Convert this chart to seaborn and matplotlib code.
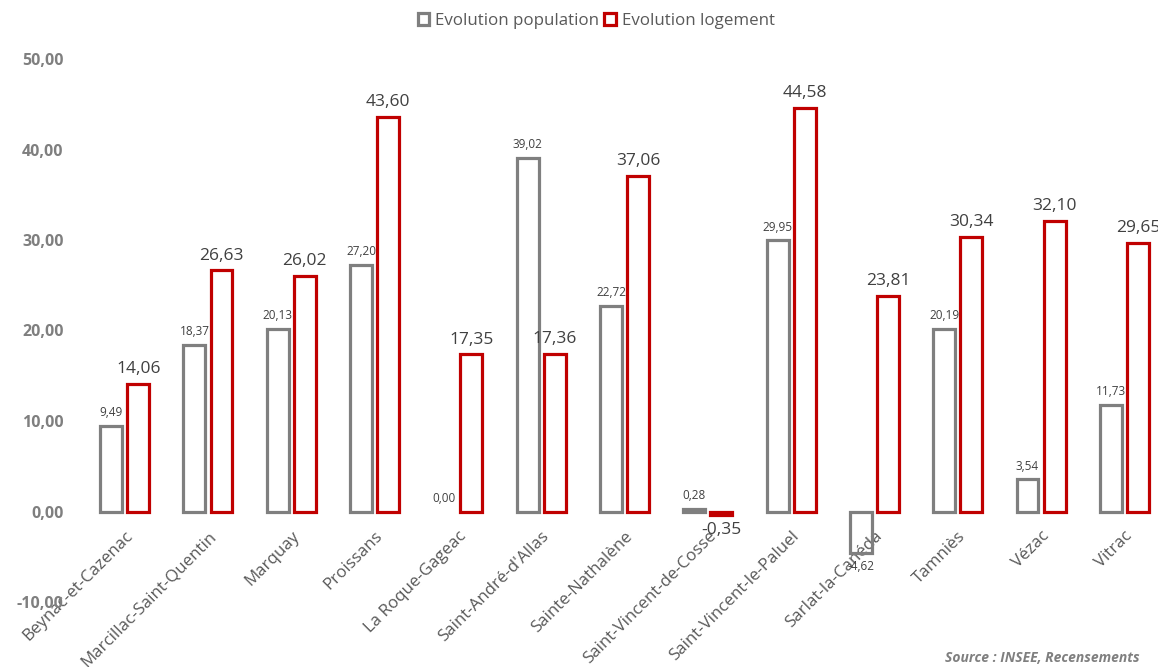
import matplotlib
matplotlib.use("Agg")
import matplotlib.pyplot as plt
import seaborn as sns
import pandas as pd

communes = ["Beynac-et-Cazenac", "Marcillac-Saint-Quentin", "Marquay", "Proissans",
            "La Roque-Gageac", "Saint-André-d'Allas", "Sainte-Nathalène",
            "Saint-Vincent-de-Cosse", "Saint-Vincent-le-Paluel", "Sarlat-la-Canéda",
            "Tamniès", "Vézac", "Vitrac"]
evol_population = [9.49, 18.37, 20.13, 27.20, 0.00, 39.02, 22.72, 0.28, 29.95, -4.62, 20.19, 3.54, 11.73]
evol_logement = [14.06, 26.63, 26.02, 43.60, 17.35, 17.36, 37.06, -0.35, 44.58, 23.81, 30.34, 32.10, 29.65]
series = ["Evolution population", "Evolution logement"]
yticks = [-10, 0, 10, 20, 30, 40, 50]

GREY = "#7F7F7F"
RED = "#C00000"
TXT = "#404040"

df = pd.DataFrame({
    "commune": communes * 2,
    "valeur": evol_population + evol_logement,
    "serie": [series[0]] * len(communes) + [series[1]] * len(communes),
})

sns.set_style("white")
plt.rcParams["font.family"] = ["Open Sans", "DejaVu Sans"]

fig = plt.figure(figsize=(11.58, 6.67), dpi=100)
ax = fig.add_axes([83 / 1158, 1 - 602 / 667, (1166 - 83) / 1158, (602 - 59) / 667])

sns.barplot(data=df, x="commune", y="valeur", hue="serie", hue_order=series,
            palette=[GREY, RED], fill=False, width=0.65, gap=0.19,
            linewidth=2.3, errorbar=None, ax=ax, order=communes)

def fmt(v):
    return f"{v:.2f}".replace(".", ",")

for container, vals, fs in zip(ax.containers, [evol_population, evol_logement], [8.5, 12.5]):
    for patch, v in zip(container.patches, vals):
        patch.set_joinstyle("miter")
        if v == 0:
            patch.set_visible(False)
        x = patch.get_x() + patch.get_width() / 2
        if v >= 0:
            ax.annotate(fmt(v), (x, v), xytext=(0, 5), textcoords="offset points",
                        ha="center", va="bottom", fontsize=fs, color=TXT)
        else:
            ax.annotate(fmt(v), (x, v), xytext=(0, -5), textcoords="offset points",
                        ha="center", va="top", fontsize=fs, color=TXT)

ax.set_ylim(-10, 50)
ax.set_xlim(-0.5, 12.5)
ax.set_yticks(yticks)
ax.set_yticklabels([fmt(t) for t in yticks], fontsize=11.5, fontweight="bold", color=GREY)
ax.tick_params(axis="y", length=0, pad=14)
ax.set_xlabel("")
ax.set_ylabel("")
for s in ["top", "right", "left"]:
    ax.spines[s].set_visible(False)
ax.spines["bottom"].set_position(("data", 0))
ax.spines["bottom"].set_color("none")
ax.tick_params(axis="x", length=0, pad=12)
for lab in ax.get_xticklabels():
    lab.set_rotation(45)
    lab.set_ha("right")
    lab.set_va("top")
    lab.set_rotation_mode("anchor")
    lab.set_fontsize(12.2)
    lab.set_color("#595959")

handles, labels = ax.get_legend_handles_labels()
if ax.legend_:
    ax.legend_.remove()
leg = fig.legend(handles, labels, loc="center", bbox_to_anchor=(0.515, 1 - 21 / 667), ncol=2,
                 frameon=False, fontsize=12.2, handlelength=0.7, handleheight=0.7,
                 handletextpad=0.35, columnspacing=0.3)
for t in leg.get_texts():
    t.set_color("#595959")

fig.text(1140 / 1158, 1 - 658 / 667, "Source : INSEE, Recensements", ha="right", va="center",
         fontsize=10, fontweight="bold", fontstyle="italic", color=GREY)

fig.savefig("out.png", dpi=100)
